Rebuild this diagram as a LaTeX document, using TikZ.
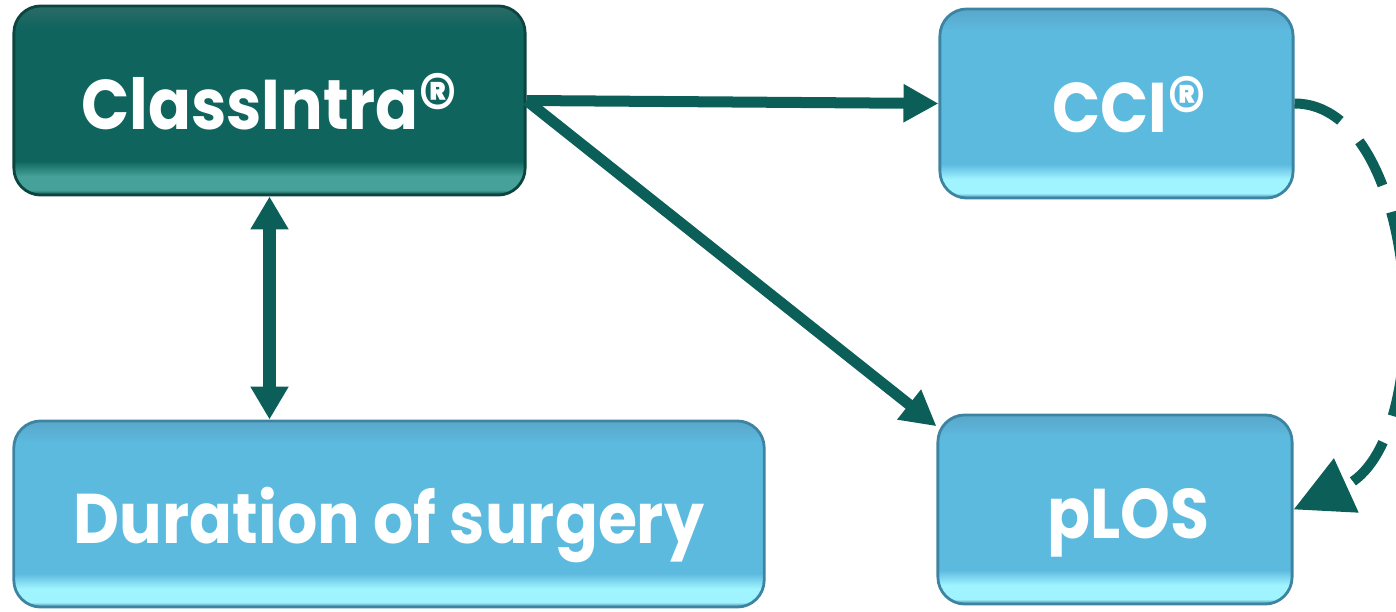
\documentclass[tikz,border=0pt]{standalone}
\usepackage{fontspec}
\setsansfont{Poppins}[FakeStretch=0.9]
\usetikzlibrary{arrows.meta}

\definecolor{tealmain}{HTML}{0F655E}
\definecolor{tealtop}{HTML}{2B6B66}
\definecolor{teallight}{HTML}{45A199}
\definecolor{tealedge}{HTML}{0A4540}
\definecolor{bluemain}{HTML}{5DBADF}
\definecolor{bluetop}{HTML}{58A7CA}
\definecolor{bluelight}{HTML}{A0F4FF}
\definecolor{blueedge}{HTML}{3D84A3}
\definecolor{arrowteal}{HTML}{0C5F58}

\pgfdeclareverticalshading{glossteal}{100bp}{color(0bp)=(tealedge); color(25bp)=(tealedge); color(26.3bp)=(teallight); color(30bp)=(teallight); color(34bp)=(tealmain); color(69bp)=(tealmain); color(75bp)=(tealtop); color(100bp)=(tealtop)}
\pgfdeclareverticalshading{glossblue}{100bp}{color(0bp)=(blueedge); color(25bp)=(blueedge); color(26.3bp)=(bluelight); color(30bp)=(bluelight); color(34bp)=(bluemain); color(69bp)=(bluemain); color(75bp)=(bluetop); color(100bp)=(bluetop)}

\tikzset{
  panel/.style={rounded corners=0.27cm, inner sep=0pt, text=white,
    text height=16.6pt, text depth=0pt,
    font=\sffamily\bfseries\fontsize{20}{24}\selectfont, line width=0.8pt},
  darkbox/.style={panel, shading=glossteal, draw=tealedge},
  lightbox/.style={panel, shading=glossblue, draw=blueedge},
  link/.style={draw=arrowteal, line width=0.11cm,
    -{Triangle[length=0.35cm,width=0.36cm]}},
}

\newcommand{\regmark}{\raisebox{-1.2pt}[0pt][0pt]{\fontsize{24}{24}\selectfont ®}}

\begin{document}
\begin{tikzpicture}[x=0.01cm,y=-0.01cm]
\useasboundingbox (0,0) rectangle (1396,612);

% boxes
\node[darkbox, minimum width=5.11cm, minimum height=1.89cm] (intra) at (269.5,100.5) {ClassIntra\regmark};
\node[lightbox, minimum width=3.53cm, minimum height=1.89cm] (cci) at (1116.5,103.5) {\hspace*{0.26cm}CCI\regmark};
\node[lightbox, minimum width=3.54cm, minimum height=1.89cm] (plos) at (1115,509.5) {\hspace*{0.26cm}pLOS};
\node[lightbox, minimum width=7.50cm, minimum height=1.86cm] (dur) at (389,514) {Duration of surgery};

% connectors
\draw[link] (intra.east) -- (cci.west);
\draw[link] (intra.east) -- (plos.155);
\draw[draw=arrowteal, line width=0.13cm,
  {Triangle[length=0.33cm,width=0.36cm]}-{Triangle[length=0.33cm,width=0.36cm]}]
  (intra.south) -- (intra.south |- dur.north);
\draw[draw=arrowteal, line width=0.10cm, dash pattern=on 0.5cm off 0.28cm,
  -{Triangle[length=0.58cm,width=0.57cm]}]
  (cci.east) .. controls +(127,0) and +(147,-67) .. (plos.east);

\end{tikzpicture}
\end{document}
